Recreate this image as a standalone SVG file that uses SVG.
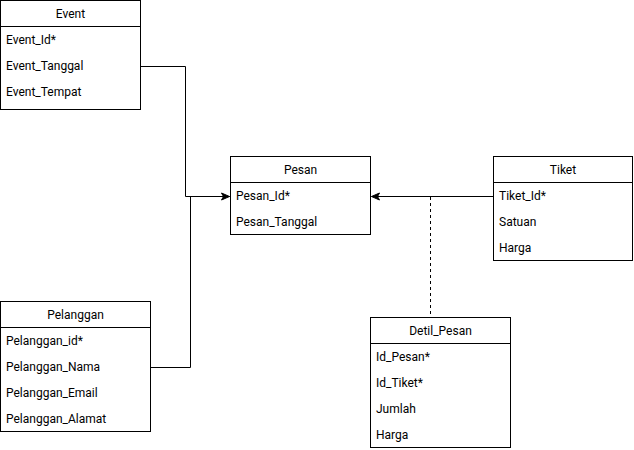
<svg xmlns="http://www.w3.org/2000/svg" width="634" height="450" viewBox="0 0 634 450">
<style>
.box{fill:#fff;stroke:#000;stroke-width:1}
.hd{fill:none;stroke:#000;stroke-width:1}
text{font-family:Roboto,"Liberation Sans",sans-serif;font-size:12px;fill:#000}
.t{text-anchor:middle}
.c{fill:none;stroke:#000;stroke-width:1}
.d{fill:none;stroke:#000;stroke-width:1;stroke-dasharray:3 3}
</style>
<defs>
<marker id="ar" markerWidth="10" markerHeight="10" refX="9" refY="5" orient="auto" markerUnits="userSpaceOnUse">
<path d="M1,1.5 L9,5 L1,8.5 L3,5 Z" fill="#000" stroke="#000" stroke-width="1"/>
</marker>
</defs>
<g id="connectors">
<path class="c" d="M140.5,66.5 H185.5 V196.5 H229.5" marker-end="url(#ar)"/>
<path class="c" d="M150.5,367.5 H190.5 V196.5 H229.5"/>
<path class="c" d="M493.5,196.5 H371.5" marker-end="url(#ar)"/>
<path class="d" d="M430.5,197 V317"/>
</g>
<g id="Event">
<rect class="box" x="0.5" y="0.5" width="140" height="109"/>
<path class="hd" d="M0.5,26.5 H140.5"/>
<text class="t" x="70.5" y="18">Event</text>
<text x="6" y="44">Event_Id*</text>
<text x="6" y="70">Event_Tanggal</text>
<text x="6" y="96">Event_Tempat</text>
</g>
<g id="Pesan">
<rect class="box" x="230.5" y="156.5" width="140" height="78"/>
<path class="hd" d="M230.5,182.5 H370.5"/>
<text class="t" x="300.5" y="174">Pesan</text>
<text x="236" y="200">Pesan_Id*</text>
<text x="236" y="226">Pesan_Tanggal</text>
</g>
<g id="Tiket">
<rect class="box" x="493.5" y="156.5" width="139" height="104"/>
<path class="hd" d="M493.5,182.5 H632.5"/>
<text class="t" x="563" y="174">Tiket</text>
<text x="499" y="200">Tiket_Id*</text>
<text x="499" y="226">Satuan</text>
<text x="499" y="252">Harga</text>
</g>
<g id="Pelanggan">
<rect class="box" x="0.5" y="301.5" width="150" height="130"/>
<path class="hd" d="M0.5,327.5 H150.5"/>
<text class="t" x="75.5" y="319">Pelanggan</text>
<text x="6" y="345">Pelanggan_id*</text>
<text x="6" y="371">Pelanggan_Nama</text>
<text x="6" y="397">Pelanggan_Email</text>
<text x="6" y="423">Pelanggan_Alamat</text>
</g>
<g id="Detil_Pesan">
<rect class="box" x="370.5" y="317.5" width="140" height="130"/>
<path class="hd" d="M370.5,343.5 H510.5"/>
<text class="t" x="440.5" y="335">Detil_Pesan</text>
<text x="376" y="361">Id_Pesan*</text>
<text x="376" y="387">Id_Tiket*</text>
<text x="376" y="413">Jumlah</text>
<text x="376" y="439">Harga</text>
</g>
</svg>
